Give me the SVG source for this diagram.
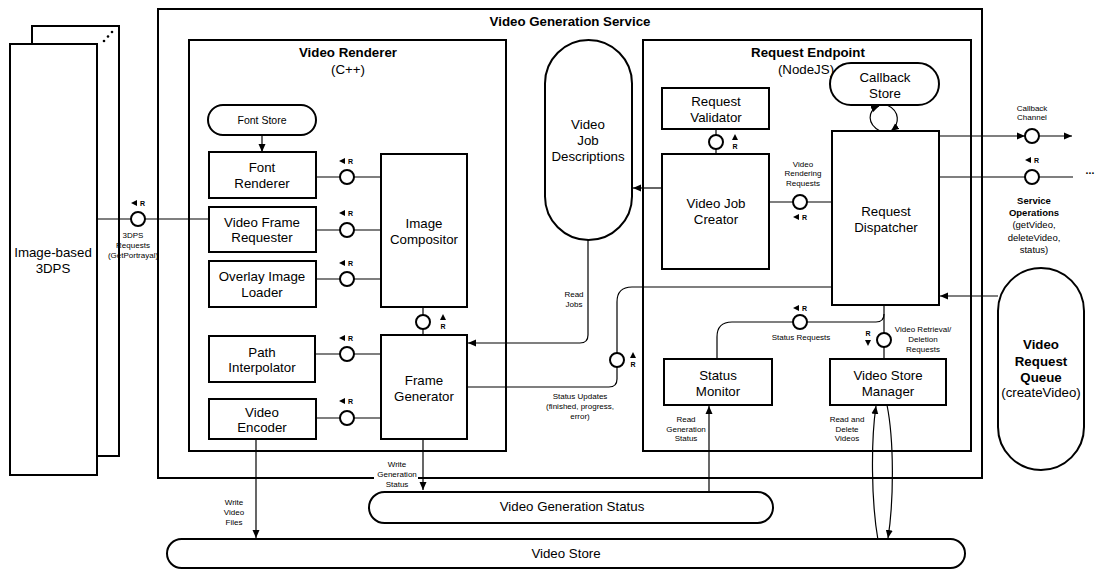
<svg xmlns="http://www.w3.org/2000/svg" width="1096" height="570" viewBox="0 0 1096 570">
  <style>
    .box { fill: #fff; stroke: #000; stroke-width: 2; }
    .frame { fill: none; stroke: #000; stroke-width: 2; }
    .wire { fill: none; stroke: #000; stroke-width: 1.2; }
    .port { fill: #fff; stroke: #000; stroke-width: 2; }
    .tri { fill: #000; }
    text { font-family: "Liberation Sans", Arial, sans-serif; fill: #000; }
    .lbl { font-size: 13.3px; text-anchor: middle; }
    .ttl { font-size: 13.3px; font-weight: bold; text-anchor: middle; }
    .fs { font-size: 10.5px; text-anchor: middle; }
    .sm { font-size: 8px; text-anchor: middle; }
    .svc { font-size: 9.5px; text-anchor: middle; }
    .svcb { font-size: 9.5px; font-weight: bold; text-anchor: middle; }
    .r { font-size: 7px; font-weight: bold; }
  </style>
  <defs>
    <marker id="ah" markerWidth="8" markerHeight="8" refX="8" refY="4" orient="auto" markerUnits="userSpaceOnUse">
      <path d="M0,0.5 L8,4 L0,7.5 z" fill="#000"/>
    </marker>
  </defs>

  <rect width="1096" height="570" fill="#fff"/>

  <!-- external 3DPS instances (stacked) -->
  <g id="node-3dps">
    <rect class="box" x="32" y="26" width="87" height="430"/>
    <rect class="box" x="10" y="44" width="87" height="431"/>
    <circle cx="104" cy="41" r="1.3"/>
    <circle cx="108" cy="36.5" r="1.3"/>
    <circle cx="112" cy="32" r="1.3"/>
    <text class="lbl" x="53" y="257">Image-based</text>
    <text class="lbl" x="53" y="273">3DPS</text>
  </g>

  <!-- service container -->
  <g id="video-generation-service">
    <rect class="frame" x="158" y="9" width="824" height="469"/>
    <text class="ttl" x="570" y="26">Video Generation Service</text>
  </g>

  <g id="video-renderer">
    <rect class="frame" x="189" y="40" width="317" height="411"/>
    <text class="ttl" x="348" y="57">Video Renderer</text>
    <text class="lbl" x="348" y="74">(C++)</text>
  </g>

  <g id="request-endpoint">
    <rect class="frame" x="643" y="40" width="328" height="411"/>
    <text class="ttl" x="808" y="57">Request Endpoint</text>
    <text class="lbl" x="806" y="74">(NodeJS)</text>
  </g>

  <!-- connectors -->
  <g id="connectors">
    <!-- 3DPS requests -->
    <path class="wire" d="M97,219 H209"/>
    <!-- renderer internals -->
    <path class="wire" d="M262,135 V152" marker-end="url(#ah)"/>
    <path class="wire" d="M316,177 H381"/>
    <path class="wire" d="M316,230 H381"/>
    <path class="wire" d="M316,279 H381"/>
    <path class="wire" d="M315,354 H381"/>
    <path class="wire" d="M316,418 H381"/>
    <path class="wire" d="M423,307 V335"/>
    <!-- read jobs -->
    <path class="wire" d="M588,240 V335 Q588,343 580,343 H468" marker-end="url(#ah)"/>
    <!-- status updates -->
    <path class="wire" d="M467,387 H609 Q617,387 617,379 V302 Q617,287 632,287 H832"/>
    <!-- job creation -->
    <path class="wire" d="M662,188 H633" marker-end="url(#ah)"/>
    <path class="wire" d="M716,129 V154"/>
    <path class="wire" d="M769,202 H832"/>
    <!-- callback store exchange -->
    <path class="wire" d="M880,131 C867,124 867,111 879,106" marker-end="url(#ah)"/>
    <path class="wire" d="M887,105 C900,111 900,124 891,131" marker-end="url(#ah)"/>
    <!-- callback channel -->
    <path class="wire" d="M939,136 H1025" marker-end="url(#ah)"/>
    <path class="wire" d="M1039,136 H1072" marker-end="url(#ah)"/>
    <!-- service operations -->
    <path class="wire" d="M939,177 H1073"/>
    <!-- queue to dispatcher -->
    <path class="wire" d="M998,296 H940" marker-end="url(#ah)"/>
    <!-- status requests -->
    <path class="wire" d="M717,359 V337 Q717,322 732,322 H876 Q884,322 884,314"/>
    <path class="wire" d="M884,305 V359"/>
    <!-- status store access -->
    <path class="wire" d="M709,494 V406" marker-end="url(#ah)"/>
    <path class="wire" d="M423,439 V490" marker-end="url(#ah)"/>
    <path class="wire" d="M256,439 V538" marker-end="url(#ah)"/>
    <!-- video store access -->
    <path class="wire" d="M878,540 C871,500 871,440 876,406" marker-end="url(#ah)"/>
    <path class="wire" d="M887,405 C894,440 894,500 888,538" marker-end="url(#ah)"/>
  </g>

  <!-- renderer components -->
  <g id="font-store">
    <rect class="box" x="208" y="105" width="108" height="30" rx="15"/>
    <text class="fs" x="262" y="124">Font Store</text>
  </g>
  <g id="font-renderer">
    <rect class="box" x="209" y="152" width="107" height="46"/>
    <text class="lbl" x="262" y="172">Font</text>
    <text class="lbl" x="262" y="188">Renderer</text>
  </g>
  <g id="video-frame-requester">
    <rect class="box" x="209" y="207" width="107" height="45"/>
    <text class="lbl" x="262" y="227">Video Frame</text>
    <text class="lbl" x="262" y="242">Requester</text>
  </g>
  <g id="overlay-image-loader">
    <rect class="box" x="209" y="261" width="107" height="46"/>
    <text class="lbl" x="262" y="281">Overlay Image</text>
    <text class="lbl" x="262" y="297">Loader</text>
  </g>
  <g id="image-compositor">
    <rect class="box" x="381" y="154" width="86" height="153"/>
    <text class="lbl" x="424" y="228">Image</text>
    <text class="lbl" x="424" y="244">Compositor</text>
  </g>
  <g id="path-interpolator">
    <rect class="box" x="209" y="336" width="106" height="46"/>
    <text class="lbl" x="262" y="357">Path</text>
    <text class="lbl" x="262" y="372">Interpolator</text>
  </g>
  <g id="frame-generator">
    <rect class="box" x="381" y="335" width="86" height="104"/>
    <text class="lbl" x="424" y="385">Frame</text>
    <text class="lbl" x="424" y="401">Generator</text>
  </g>
  <g id="video-encoder">
    <rect class="box" x="209" y="399" width="107" height="40"/>
    <text class="lbl" x="262" y="417">Video</text>
    <text class="lbl" x="262" y="432">Encoder</text>
  </g>

  <g id="video-job-descriptions">
    <rect class="box" x="545" y="40" width="87" height="200" rx="43.5"/>
    <text class="lbl" x="588" y="129">Video</text>
    <text class="lbl" x="588" y="145">Job</text>
    <text class="lbl" x="588" y="161">Descriptions</text>
  </g>

  <!-- endpoint components -->
  <g id="request-validator">
    <rect class="box" x="662" y="88" width="107" height="41"/>
    <text class="lbl" x="716" y="106">Request</text>
    <text class="lbl" x="716" y="122">Validator</text>
  </g>
  <g id="video-job-creator">
    <rect class="box" x="662" y="154" width="107" height="115"/>
    <text class="lbl" x="716" y="208">Video Job</text>
    <text class="lbl" x="716" y="224">Creator</text>
  </g>
  <g id="callback-store">
    <rect class="box" x="830" y="63" width="109" height="42" rx="21"/>
    <text class="lbl" x="885" y="82">Callback</text>
    <text class="lbl" x="885" y="98">Store</text>
  </g>
  <g id="request-dispatcher">
    <rect class="box" x="832" y="131" width="107" height="174"/>
    <text class="lbl" x="886" y="216">Request</text>
    <text class="lbl" x="886" y="232">Dispatcher</text>
  </g>
  <g id="status-monitor">
    <rect class="box" x="664" y="359" width="108" height="46"/>
    <text class="lbl" x="718" y="380">Status</text>
    <text class="lbl" x="718" y="396">Monitor</text>
  </g>
  <g id="video-store-manager">
    <rect class="box" x="830" y="359" width="116" height="46"/>
    <text class="lbl" x="888" y="380">Video Store</text>
    <text class="lbl" x="888" y="396">Manager</text>
  </g>

  <g id="video-request-queue">
    <rect class="box" x="998" y="268" width="86" height="202" rx="43"/>
    <text class="ttl" x="1041" y="349">Video</text>
    <text class="ttl" x="1041" y="366">Request</text>
    <text class="ttl" x="1041" y="382">Queue</text>
    <text class="lbl" x="1041" y="397">(createVideo)</text>
  </g>

  <g id="video-generation-status">
    <rect class="box" x="369" y="492" width="404" height="31" rx="15.5"/>
    <text class="lbl" x="572" y="511">Video Generation Status</text>
  </g>
  <g id="video-store">
    <rect class="box" x="167" y="539" width="798" height="29" rx="14.5"/>
    <text class="lbl" x="566" y="558">Video Store</text>
  </g>

  <!-- interface ports with request direction markers -->
  <g id="ports">
    <circle class="port" cx="138" cy="219" r="7"/>
    <path class="tri" d="M131,203 L137,200 L137,206 z"/><text class="r" x="140" y="206">R</text>

    <circle class="port" cx="347" cy="177" r="7"/>
    <path class="tri" d="M339,161 L345,158 L345,164 z"/><text class="r" x="348" y="164">R</text>
    <circle class="port" cx="347" cy="230" r="7"/>
    <path class="tri" d="M339,213 L345,210 L345,216 z"/><text class="r" x="348" y="216">R</text>
    <circle class="port" cx="347" cy="279" r="7"/>
    <path class="tri" d="M339,263 L345,260 L345,266 z"/><text class="r" x="348" y="266">R</text>
    <circle class="port" cx="347" cy="354" r="7"/>
    <path class="tri" d="M339,338 L345,335 L345,341 z"/><text class="r" x="348" y="341">R</text>
    <circle class="port" cx="347" cy="418" r="7"/>
    <path class="tri" d="M339,401 L345,398 L345,404 z"/><text class="r" x="348" y="404">R</text>

    <circle class="port" cx="423" cy="322" r="7"/>
    <path class="tri" d="M443,314 L446,320 L440,320 z"/><text class="r" x="440.5" y="329">R</text>

    <circle class="port" cx="617" cy="360" r="7"/>
    <path class="tri" d="M633,352 L636,358 L630,358 z"/><text class="r" x="630.5" y="367">R</text>

    <circle class="port" cx="716" cy="142" r="7"/>
    <path class="tri" d="M735,134 L738,140 L732,140 z"/><text class="r" x="732.5" y="149">R</text>

    <circle class="port" cx="800" cy="202" r="7"/>
    <path class="tri" d="M793,217 L799,214 L799,220 z"/><text class="r" x="802" y="220">R</text>

    <circle class="port" cx="800" cy="322" r="7"/>
    <path class="tri" d="M793,308 L799,305 L799,311 z"/><text class="r" x="802" y="311">R</text>

    <circle class="port" cx="884" cy="340" r="7"/>
    <text class="r" x="865.5" y="336">R</text><path class="tri" d="M868,346 L865,340 L871,340 z"/>

    <circle class="port" cx="1032" cy="136" r="7"/>

    <circle class="port" cx="1032" cy="177" r="7"/>
    <path class="tri" d="M1025,160 L1031,157 L1031,163 z"/><text class="r" x="1034" y="163">R</text>
  </g>

  <!-- connector labels -->
  <g id="labels">
    <text class="sm" x="133" y="238">3DPS</text>
    <text class="sm" x="133" y="248">Requests</text>
    <text class="sm" x="133" y="258">(GetPortrayal)</text>

    <text class="sm" x="574" y="297">Read</text>
    <text class="sm" x="574" y="307">Jobs</text>

    <text class="sm" x="580" y="399">Status Updates</text>
    <text class="sm" x="580" y="409">(finished, progress,</text>
    <text class="sm" x="580" y="419">error)</text>

    <text class="sm" x="803" y="167">Video</text>
    <text class="sm" x="803" y="176">Rendering</text>
    <text class="sm" x="803" y="186">Requests</text>

    <text class="sm" x="801" y="340">Status Requests</text>

    <text class="sm" x="923" y="332">Video Retrieval/</text>
    <text class="sm" x="923" y="342">Deletion</text>
    <text class="sm" x="923" y="352">Requests</text>

    <text class="sm" x="686" y="422">Read</text>
    <text class="sm" x="686" y="432">Generation</text>
    <text class="sm" x="686" y="441">Status</text>

    <text class="sm" x="847" y="422">Read and</text>
    <text class="sm" x="847" y="432">Delete</text>
    <text class="sm" x="847" y="441">Videos</text>

    <rect x="374" y="470" width="44" height="10" fill="#fff"/>
    <text class="sm" x="397" y="467">Write</text>
    <text class="sm" x="397" y="477">Generation</text>
    <text class="sm" x="397" y="487">Status</text>

    <text class="sm" x="234" y="505">Write</text>
    <text class="sm" x="234" y="515">Video</text>
    <text class="sm" x="234" y="525">Files</text>

    <text class="sm" x="1032" y="111">Callback</text>
    <text class="sm" x="1032" y="120">Channel</text>

    <text class="svcb" x="1034" y="204">Service</text>
    <text class="svcb" x="1034" y="216">Operations</text>
    <text class="svc" x="1034" y="228">(getVideo,</text>
    <text class="svc" x="1034" y="241">deleteVideo,</text>
    <text class="svc" x="1034" y="253">status)</text>

    <text class="fs" x="1090" y="174" style="font-weight:bold">...</text>
  </g>
</svg>
